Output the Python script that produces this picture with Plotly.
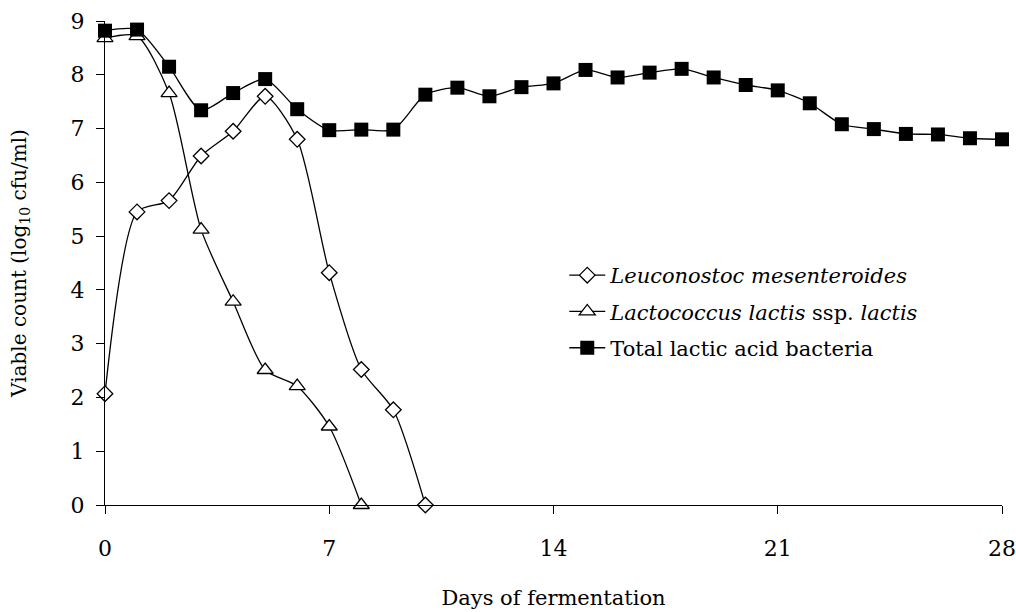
import plotly.graph_objects as go

days = list(range(29))
total_lab = [8.82, 8.84, 8.15, 7.34, 7.66, 7.92, 7.36, 6.97, 6.98, 6.98, 7.63, 7.76,
             7.60, 7.77, 7.84, 8.09, 7.95, 8.04, 8.11, 7.95, 7.81, 7.71, 7.47, 7.08,
             6.99, 6.90, 6.89, 6.82, 6.80]
leuco_days = list(range(11))
leuco = [2.07, 5.45, 5.66, 6.49, 6.95, 7.60, 6.80, 4.32, 2.52, 1.77, 0.0]
lacto_days = list(range(9))
lacto = [8.68, 8.72, 7.66, 5.12, 3.78, 2.51, 2.21, 1.46, 0.0]

x_ticks = [0, 7, 14, 21, 28]
y_ticks = list(range(10))

FONT = "DejaVu Serif"
FS = 21

fig = go.Figure()
fig.add_trace(go.Scatter(
    x=leuco_days, y=leuco, mode="lines+markers",
    name="<i>Leuconostoc mesenteroides</i>", legendgroup="a",
    line=dict(color="black", width=1.3, shape="spline", smoothing=0.7),
    marker=dict(symbol="diamond", size=12, color="white", line=dict(color="black", width=1.3)),
    cliponaxis=False,
))
fig.add_trace(go.Scatter(
    x=lacto_days, y=lacto, mode="lines+markers",
    name="<i>Lactococcus lactis</i> ssp. <i>lactis</i>", legendgroup="b",
    line=dict(color="black", width=1.3, shape="spline", smoothing=0.7),
    marker=dict(symbol="triangle-up", size=14, color="white", line=dict(color="black", width=1.3)),
    cliponaxis=False,
))
fig.add_trace(go.Scatter(
    x=days, y=total_lab, mode="lines+markers",
    name="Total lactic acid bacteria", legendgroup="c",
    line=dict(color="black", width=1.3, shape="spline", smoothing=0.7),
    marker=dict(symbol="square", size=14, color="black", line=dict(color="black", width=0)),
    cliponaxis=False,
))

fig.update_layout(
    width=1016, height=612,
    margin=dict(l=105, r=14, t=21, b=107, autoexpand=False),
    paper_bgcolor="white", plot_bgcolor="white",
    font=dict(family=FONT, size=FS, color="black"),
    showlegend=True,
    legend=dict(x=0.512, y=0.5165, xanchor="left", yanchor="top",
                bgcolor="rgba(0,0,0,0)", font=dict(size=FS, family=FONT),
                itemwidth=36, tracegroupgap=6),
    xaxis=dict(range=[0, 28], tickvals=x_ticks, ticktext=[str(v) for v in x_ticks],
               showline=True, linecolor="black", linewidth=1.3,
               ticks="outside", ticklen=8, tickwidth=1.3, tickcolor="black",
               showgrid=False, zeroline=False, automargin=False,
               ticklabelstandoff=15,
               title=dict(text="Days of fermentation", standoff=30, font=dict(size=FS)),
               tickfont=dict(size=22)),
    yaxis=dict(range=[0, 9], tickvals=y_ticks,
               showline=True, linecolor="black", linewidth=1.3,
               ticks="outside", ticklen=8, tickwidth=1.3, tickcolor="black",
               showgrid=False, zeroline=False, automargin=False,
               ticklabelstandoff=7,
               title=dict(text="Viable count (log<sub>10</sub> cfu/ml)", standoff=38, font=dict(size=20)),
               tickfont=dict(size=22)),
)

fig.write_html(
    "out.html",
    config={"displayModeBar": False},
    post_script="document.body.style.margin='0';document.body.style.overflow='hidden';",
)
